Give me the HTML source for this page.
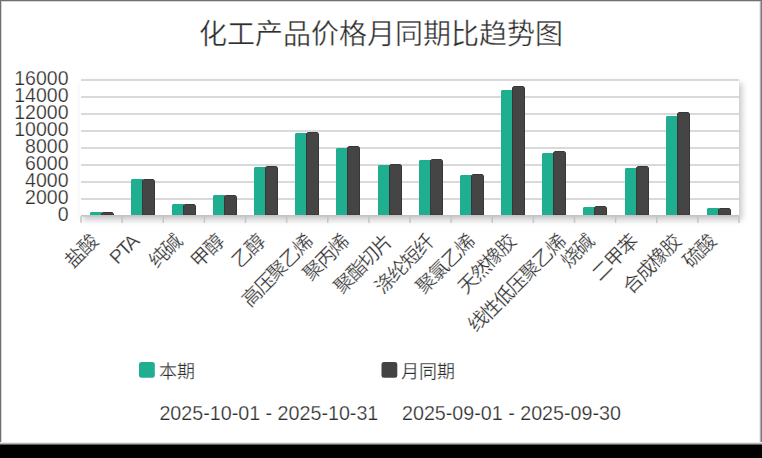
<!DOCTYPE html>
<html lang="zh-CN"><head><meta charset="utf-8">
<style>
html,body{margin:0;padding:0;background:#000;}
body{width:762px;height:458px;position:relative;overflow:hidden;font-family:"Liberation Sans",sans-serif;}
#card{position:absolute;left:0;top:0;width:762px;height:445px;background:#fff;}
#bl{position:absolute;left:0;top:0;width:1px;height:445px;background:#707070;}
#bl2{position:absolute;left:1px;top:1px;width:1px;height:443px;background:#d6d6d6;}
#bt{position:absolute;left:0;top:0;width:762px;height:1px;background:#707070;}
#bt2{position:absolute;left:1px;top:1px;width:759px;height:1px;background:#d6d6d6;}
#br{position:absolute;left:761px;top:0;width:1px;height:445px;background:#787878;}
#br2{position:absolute;left:760px;top:1px;width:1px;height:443px;background:#b0b0b0;}
#br3{position:absolute;left:759px;top:2px;width:1px;height:442px;background:#ececec;}
#bb1{position:absolute;left:0;top:442px;width:762px;height:1px;background:#e8e8e8;}
#bb2{position:absolute;left:0;top:443px;width:762px;height:1px;background:#b8b8b8;}
#bb3{position:absolute;left:0;top:444px;width:762px;height:1px;background:#606060;}
#plotbg{position:absolute;left:80px;top:79px;width:659px;height:137px;background:#fff;box-shadow:3px 4px 6px rgba(0,0,0,0.22);}
svg{position:absolute;left:0;top:0;}
.yl{font-size:19.5px;fill:#2e2e2e;stroke:#fff;stroke-width:0.25px;}
.xl{font-size:19.5px;letter-spacing:-1.8px;fill:#2e2e2e;stroke:#fff;stroke-width:0.25px;}
.title{font-size:28px;fill:#2e2e2e;stroke:#fff;stroke-width:0.35px;}
.lg{font-size:18px;fill:#2e2e2e;stroke:#fff;stroke-width:0.25px;}
.dt{font-size:19.7px;fill:#2e2e2e;stroke:#fff;stroke-width:0.25px;}
</style></head><body>
<div id="card"></div>
<div id="plotbg"></div>
<svg width="762" height="458" viewBox="0 0 762 458">
<text x="381" y="44" text-anchor="middle" class="title">化工产品价格月同期比趋势图</text>
<rect x="81" y="198" width="658" height="2" fill="#d9d9d9"/>
<rect x="81" y="181" width="658" height="2" fill="#d9d9d9"/>
<rect x="81" y="164" width="658" height="2" fill="#d9d9d9"/>
<rect x="81" y="147" width="658" height="2" fill="#d9d9d9"/>
<rect x="81" y="130" width="658" height="2" fill="#d9d9d9"/>
<rect x="81" y="113" width="658" height="2" fill="#d9d9d9"/>
<rect x="81" y="96" width="658" height="2" fill="#d9d9d9"/>
<rect x="81" y="79" width="658" height="2" fill="#d9d9d9"/>
<path d="M90,215L90,213L91,212L102,212L102,215Z" fill="#20ae91"/>
<path d="M101.50,215.00L101.50,213.70L102.70,212.50L112.30,212.50L113.50,213.70L113.50,215.00Z" fill="#454545" stroke="#383838" stroke-width="1"/>
<path d="M131,215L131,180L132,179L143,179L143,215Z" fill="#20ae91"/>
<path d="M142.50,215.00L142.50,180.70L143.70,179.50L153.30,179.50L154.50,180.70L154.50,215.00Z" fill="#454545" stroke="#383838" stroke-width="1"/>
<path d="M172,215L172,205L173,204L184,204L184,215Z" fill="#20ae91"/>
<path d="M183.50,215.00L183.50,205.70L184.70,204.50L194.30,204.50L195.50,205.70L195.50,215.00Z" fill="#454545" stroke="#383838" stroke-width="1"/>
<path d="M213,215L213,196L214,195L225,195L225,215Z" fill="#20ae91"/>
<path d="M224.50,215.00L224.50,196.70L225.70,195.50L235.30,195.50L236.50,196.70L236.50,215.00Z" fill="#454545" stroke="#383838" stroke-width="1"/>
<path d="M254,215L254,168L255,167L266,167L266,215Z" fill="#20ae91"/>
<path d="M265.50,215.00L265.50,167.70L266.70,166.50L276.30,166.50L277.50,167.70L277.50,215.00Z" fill="#454545" stroke="#383838" stroke-width="1"/>
<path d="M295,215L295,134L296,133L307,133L307,215Z" fill="#20ae91"/>
<path d="M306.50,215.00L306.50,133.70L307.70,132.50L317.30,132.50L318.50,133.70L318.50,215.00Z" fill="#454545" stroke="#383838" stroke-width="1"/>
<path d="M336,215L336,149L337,148L348,148L348,215Z" fill="#20ae91"/>
<path d="M347.50,215.00L347.50,147.70L348.70,146.50L358.30,146.50L359.50,147.70L359.50,215.00Z" fill="#454545" stroke="#383838" stroke-width="1"/>
<path d="M378,215L378,166L379,165L390,165L390,215Z" fill="#20ae91"/>
<path d="M389.50,215.00L389.50,165.70L390.70,164.50L400.30,164.50L401.50,165.70L401.50,215.00Z" fill="#454545" stroke="#383838" stroke-width="1"/>
<path d="M419,215L419,161L420,160L431,160L431,215Z" fill="#20ae91"/>
<path d="M430.50,215.00L430.50,160.70L431.70,159.50L441.30,159.50L442.50,160.70L442.50,215.00Z" fill="#454545" stroke="#383838" stroke-width="1"/>
<path d="M460,215L460,176L461,175L472,175L472,215Z" fill="#20ae91"/>
<path d="M471.50,215.00L471.50,175.70L472.70,174.50L482.30,174.50L483.50,175.70L483.50,215.00Z" fill="#454545" stroke="#383838" stroke-width="1"/>
<path d="M501,215L501,91L502,90L513,90L513,215Z" fill="#20ae91"/>
<path d="M512.50,215.00L512.50,87.70L513.70,86.50L523.30,86.50L524.50,87.70L524.50,215.00Z" fill="#454545" stroke="#383838" stroke-width="1"/>
<path d="M542,215L542,154L543,153L554,153L554,215Z" fill="#20ae91"/>
<path d="M553.50,215.00L553.50,152.70L554.70,151.50L564.30,151.50L565.50,152.70L565.50,215.00Z" fill="#454545" stroke="#383838" stroke-width="1"/>
<path d="M583,215L583,208L584,207L595,207L595,215Z" fill="#20ae91"/>
<path d="M594.50,215.00L594.50,207.70L595.70,206.50L605.30,206.50L606.50,207.70L606.50,215.00Z" fill="#454545" stroke="#383838" stroke-width="1"/>
<path d="M625,215L625,169L626,168L637,168L637,215Z" fill="#20ae91"/>
<path d="M636.50,215.00L636.50,167.70L637.70,166.50L647.30,166.50L648.50,167.70L648.50,215.00Z" fill="#454545" stroke="#383838" stroke-width="1"/>
<path d="M666,215L666,117L667,116L678,116L678,215Z" fill="#20ae91"/>
<path d="M677.50,215.00L677.50,113.70L678.70,112.50L688.30,112.50L689.50,113.70L689.50,215.00Z" fill="#454545" stroke="#383838" stroke-width="1"/>
<path d="M707,215L707,209L708,208L719,208L719,215Z" fill="#20ae91"/>
<path d="M718.50,215.00L718.50,209.70L719.70,208.50L729.30,208.50L730.50,209.70L730.50,215.00Z" fill="#454545" stroke="#383838" stroke-width="1"/>
<rect x="81" y="215" width="658" height="1.5" fill="#c4c4c4"/>
<rect x="80.25" y="216.3" width="1.5" height="6.5" fill="#c4c4c4"/>
<rect x="121.38" y="216.3" width="1.5" height="6.5" fill="#c4c4c4"/>
<rect x="162.50" y="216.3" width="1.5" height="6.5" fill="#c4c4c4"/>
<rect x="203.62" y="216.3" width="1.5" height="6.5" fill="#c4c4c4"/>
<rect x="244.75" y="216.3" width="1.5" height="6.5" fill="#c4c4c4"/>
<rect x="285.88" y="216.3" width="1.5" height="6.5" fill="#c4c4c4"/>
<rect x="327.00" y="216.3" width="1.5" height="6.5" fill="#c4c4c4"/>
<rect x="368.12" y="216.3" width="1.5" height="6.5" fill="#c4c4c4"/>
<rect x="409.25" y="216.3" width="1.5" height="6.5" fill="#c4c4c4"/>
<rect x="450.38" y="216.3" width="1.5" height="6.5" fill="#c4c4c4"/>
<rect x="491.50" y="216.3" width="1.5" height="6.5" fill="#c4c4c4"/>
<rect x="532.62" y="216.3" width="1.5" height="6.5" fill="#c4c4c4"/>
<rect x="573.75" y="216.3" width="1.5" height="6.5" fill="#c4c4c4"/>
<rect x="614.88" y="216.3" width="1.5" height="6.5" fill="#c4c4c4"/>
<rect x="656.00" y="216.3" width="1.5" height="6.5" fill="#c4c4c4"/>
<rect x="697.12" y="216.3" width="1.5" height="6.5" fill="#c4c4c4"/>
<rect x="738.25" y="216.3" width="1.5" height="6.5" fill="#c4c4c4"/>
<text x="68.5" y="221.30" text-anchor="end" class="yl">0</text>
<text x="68.5" y="204.31" text-anchor="end" class="yl">2000</text>
<text x="68.5" y="187.33" text-anchor="end" class="yl">4000</text>
<text x="68.5" y="170.34" text-anchor="end" class="yl">6000</text>
<text x="68.5" y="153.35" text-anchor="end" class="yl">8000</text>
<text x="68.5" y="136.36" text-anchor="end" class="yl">10000</text>
<text x="68.5" y="119.38" text-anchor="end" class="yl">12000</text>
<text x="68.5" y="102.39" text-anchor="end" class="yl">14000</text>
<text x="68.5" y="85.40" text-anchor="end" class="yl">16000</text>
<text transform="translate(98.86,243.30) rotate(-45)" text-anchor="end" class="xl">盐酸</text>
<text transform="translate(139.39,243.30) rotate(-45)" text-anchor="end" class="xl">PTA</text>
<text transform="translate(183.11,243.30) rotate(-45)" text-anchor="end" class="xl">纯碱</text>
<text transform="translate(224.54,243.30) rotate(-45)" text-anchor="end" class="xl">甲醇</text>
<text transform="translate(265.56,243.30) rotate(-45)" text-anchor="end" class="xl">乙醇</text>
<text transform="translate(314.09,243.30) rotate(-45)" text-anchor="end" class="xl">高压聚乙烯</text>
<text transform="translate(350.11,243.30) rotate(-45)" text-anchor="end" class="xl">聚丙烯</text>
<text transform="translate(393.14,243.30) rotate(-45)" text-anchor="end" class="xl">聚酯切片</text>
<text transform="translate(434.66,243.30) rotate(-45)" text-anchor="end" class="xl">涤纶短纤</text>
<text transform="translate(475.69,243.30) rotate(-45)" text-anchor="end" class="xl">聚氯乙烯</text>
<text transform="translate(517.21,243.30) rotate(-45)" text-anchor="end" class="xl">天然橡胶</text>
<text transform="translate(566.54,243.30) rotate(-45)" text-anchor="end" class="xl">线性低压聚乙烯</text>
<text transform="translate(594.46,243.30) rotate(-45)" text-anchor="end" class="xl">烧碱</text>
<text transform="translate(638.79,243.30) rotate(-45)" text-anchor="end" class="xl">二甲苯</text>
<text transform="translate(682.21,243.30) rotate(-45)" text-anchor="end" class="xl">合成橡胶</text>
<text transform="translate(716.74,243.30) rotate(-45)" text-anchor="end" class="xl">硫酸</text>
<rect x="139" y="362" width="15.8" height="15.8" rx="2.5" fill="#20ae91"/>
<text x="158.5" y="377.5" class="lg">本期</text>
<rect x="381.5" y="362" width="15.8" height="15.8" rx="2.5" fill="#434343"/>
<text x="400.5" y="377.5" class="lg">月同期</text>
<text x="159.4" y="420" class="dt">2025-10-01 - 2025-10-31</text>
<text x="402" y="420" class="dt">2025-09-01 - 2025-09-30</text>
</svg>
<div id="bl"></div><div id="bl2"></div><div id="bt"></div><div id="bt2"></div><div id="br"></div><div id="br3"></div><div id="br2"></div>
<div id="bb1"></div><div id="bb2"></div><div id="bb3"></div>
</body></html>
